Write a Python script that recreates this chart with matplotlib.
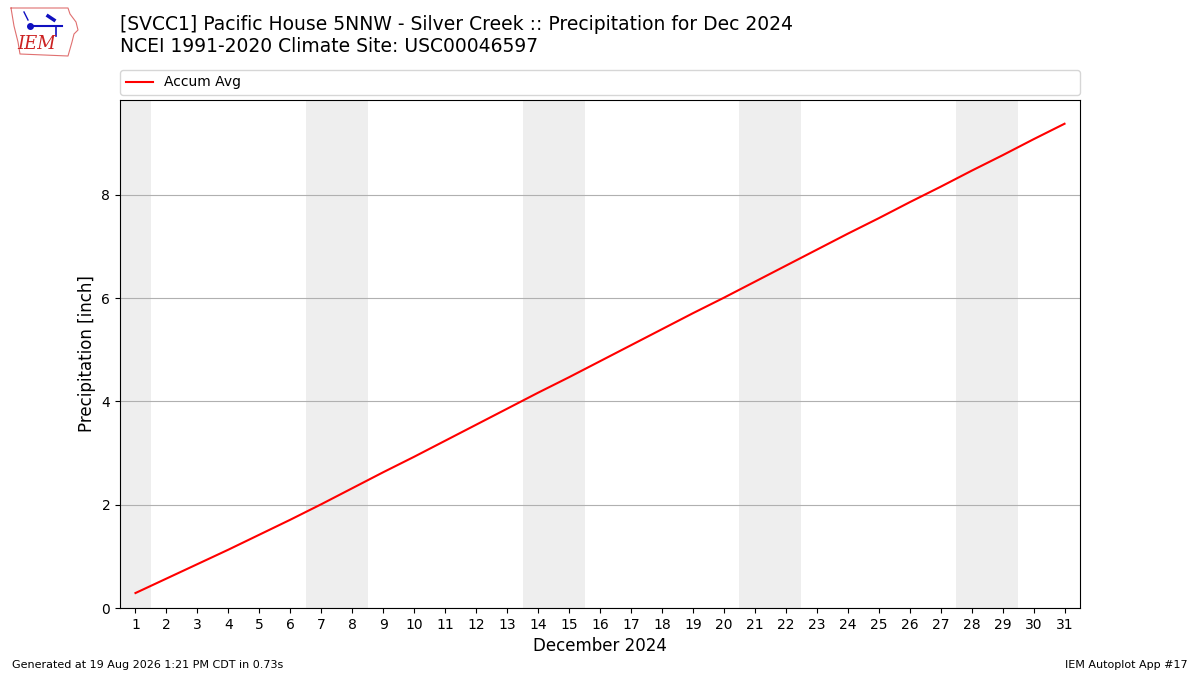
import matplotlib
matplotlib.use("Agg")
import matplotlib.pyplot as plt

days = list(range(1, 32))
accum_avg = [0.29, 0.57, 0.85, 1.13, 1.42, 1.71, 2.01, 2.32, 2.63, 2.93,
             3.24, 3.55, 3.86, 4.17, 4.47, 4.78, 5.09, 5.40, 5.71, 6.01,
             6.32, 6.63, 6.94, 7.25, 7.55, 7.86, 8.16, 8.47, 8.77, 9.08, 9.38]
weekend_spans = [(0.5, 1.5), (6.5, 8.5), (13.5, 15.5), (20.5, 22.5), (27.5, 29.5)]

title1 = "[SVCC1] Pacific House 5NNW - Silver Creek :: Precipitation for Dec 2024"
title2 = "NCEI 1991-2020 Climate Site: USC00046597"

fig = plt.figure(figsize=(12, 6.75), dpi=100)
ax = fig.add_axes([0.1, 1 - 608 / 675, 0.8, 508 / 675])

for a, b in weekend_spans:
    ax.axvspan(a, b, color="#eeeeee", zorder=0, lw=0)

ax.plot(days, accum_avg, color="red", lw=1.5, label="Accum Avg", zorder=3)
ax.set_xlim(0.5, 31.5)
ax.set_ylim(0, 9.84)
ax.set_xticks(days)
ax.set_xticklabels([str(d) for d in days])
ax.tick_params(labelsize=10)
ax.grid(axis="y", color="#b0b0b0", lw=0.8)
ax.set_axisbelow(True)
ax.set_ylabel("Precipitation [inch]", fontsize=12)
ax.set_xlabel("December 2024", fontsize=12)

ax.legend(loc="lower left", bbox_to_anchor=(0, 1.01, 1, 0.05), mode="expand",
          ncol=1, fontsize=10, borderaxespad=0, frameon=True)

fig.text(0.1, 1 - 24 / 675, title1, fontsize=13.5, va="center", ha="left")
fig.text(0.1, 1 - 47 / 675, title2, fontsize=13.5, va="center", ha="left")

fig.text(0.01, 1 - 665 / 675, "Generated at 19 Aug 2026 1:21 PM CDT in 0.73s",
         fontsize=8, va="center", ha="left")
fig.text(0.99, 1 - 665 / 675, "IEM Autoplot App #17",
         fontsize=8, va="center", ha="right")

# logo approximation
lax = fig.add_axes([8 / 1200, 1 - 60 / 675, 72 / 1200, 54 / 675])
lax.set_xlim(0, 72)
lax.set_ylim(54, 0)
lax.axis("off")
outline_x = [3, 60, 62, 68, 70, 66, 64, 60, 12, 10, 6, 3]
outline_y = [2, 2, 8, 16, 24, 28, 36, 50, 48, 36, 20, 2]
lax.plot(outline_x, outline_y, color="#e07070", lw=0.8)
lax.text(29, 38, "IEM", color="#cc2222", fontsize=13, family="DejaVu Serif",
         style="italic", ha="center", va="center")
lax.plot([22, 54], [20, 20], color="#1010c0", lw=1.5)
lax.plot([22], [20], "o", color="#1010c0", ms=4)
lax.plot([40, 46], [10, 14], color="#1010c0", lw=2.5)
lax.plot([48, 48], [20, 30], color="#1010c0", lw=1.2)
lax.plot([16, 18, 20], [6, 10, 14], color="#1010c0", lw=1)

fig.savefig("out.png", dpi=100)
